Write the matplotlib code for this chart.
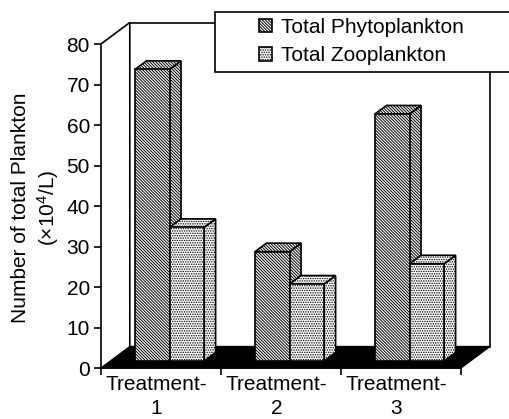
"""
Plankton counts per treatment, drawn as a pseudo 3D bar chart
"""

# Libraries
import matplotlib
matplotlib.use("Agg")
import matplotlib.pyplot as plt
from matplotlib.patches import Patch, Rectangle
from matplotlib.transforms import ScaledTranslation

# Data
treatments    = ["Treatment-\n1", "Treatment-\n2", "Treatment-\n3"]
phytoplankton = [72, 27, 61]
zooplankton   = [33, 19, 24]
y_ticks       = [0, 10, 20, 30, 40, 50, 60, 70, 80]

# Constants
WIDTH, HEIGHT = 510, 419
LINE_WIDTH = 1.2
FONT_SIZE  = 15
BAR_START  = 0.283
BAR_WIDTH  = 0.288
BAR_LIFT   = 1.73
BAR_DX     = 0.096
BAR_DY     = 2.1
WALL_DX    = 0.24
WALL_DY    = 5.3
Y_TOP      = 80

plt.rcParams["font.family"] = ["Liberation Sans", "DejaVu Sans"]
plt.rcParams["mathtext.default"] = "regular"
plt.rcParams["hatch.linewidth"] = 0.7

PHYTO_STYLE = {"facecolor": "white", "edgecolor": "black", "hatch": "\\"*11}
ZOO_STYLE   = {"facecolor": "white", "edgecolor": "black", "hatch": "."*7}

def draw_bar(ax, x, value, style):
    """
    Draws one bar with its side and top faces
    """
    top = BAR_LIFT + value
    right = x + BAR_WIDTH
    ax.fill([right, right+BAR_DX, right+BAR_DX, right],
            [BAR_LIFT, BAR_LIFT+BAR_DY, top+BAR_DY, top],
            linewidth=LINE_WIDTH, clip_on=False, zorder=3, **style)
    ax.fill([x, x+BAR_DX, right+BAR_DX, right],
            [top, top+BAR_DY, top+BAR_DY, top],
            linewidth=LINE_WIDTH, clip_on=False, zorder=3, **style)
    ax.bar(x, value, BAR_WIDTH, bottom=BAR_LIFT, align="edge",
           linewidth=LINE_WIDTH, clip_on=False, zorder=3, **style)

# Set up figure
fig = plt.figure(figsize=(WIDTH/100, HEIGHT/100), dpi=100)
ax = fig.add_axes([101/WIDTH, (HEIGHT-368)/HEIGHT, 360/WIDTH, 324/HEIGHT])
ax.set_xlim(0, len(treatments))
ax.set_ylim(0, Y_TOP)

# Floor and back walls
n = len(treatments)
ax.fill([0, n, n+WALL_DX, WALL_DX], [0, 0, WALL_DY, WALL_DY], color="black", clip_on=False, zorder=2)
ax.plot([0, WALL_DX, WALL_DX], [Y_TOP, Y_TOP+WALL_DY, WALL_DY], color="black", linewidth=LINE_WIDTH, clip_on=False, zorder=2)
ax.plot([WALL_DX, n+WALL_DX, n+WALL_DX], [Y_TOP+WALL_DY, Y_TOP+WALL_DY, WALL_DY], color="black", linewidth=LINE_WIDTH, clip_on=False, zorder=2)

# Bars, drawn left to right so the nearer faces overlap
for i in range(n):
    draw_bar(ax, i+BAR_START, phytoplankton[i], PHYTO_STYLE)
    draw_bar(ax, i+BAR_START+BAR_WIDTH, zooplankton[i], ZOO_STYLE)

# Axes
for side in ["top", "right"]:
    ax.spines[side].set_visible(False)
for side in ["left", "bottom"]:
    ax.spines[side].set_linewidth(LINE_WIDTH)
ax.set_yticks(y_ticks)
ax.set_xticks(range(n+1))
ax.set_xticklabels([])
ax.set_xticks([i+0.5 for i in range(n)], treatments, minor=True)
ax.tick_params(axis="y", length=5, width=LINE_WIDTH, labelsize=FONT_SIZE, pad=3)
ax.tick_params(axis="x", which="major", length=5, width=LINE_WIDTH)
ax.tick_params(axis="x", which="minor", length=0, labelsize=FONT_SIZE, pad=5)
shift = ScaledTranslation(-4.5/100, 0, fig.dpi_scale_trans)
for label in ax.get_xticklabels(minor=True):
    label.set_transform(label.get_transform() + shift)
    label.set_linespacing(1.32)
fig.text(36/WIDTH, (HEIGHT-208)/HEIGHT, "Number of total Plankton\n(\u00d710$^{4}$/L)",
         rotation=90, fontsize=FONT_SIZE, ha="center", va="center", multialignment="center", linespacing=1.3)

# Legend
ax.add_patch(Rectangle((215/WIDTH, (HEIGHT-72)/HEIGHT), 320/WIDTH, 60/HEIGHT, transform=fig.transFigure,
                       facecolor="white", edgecolor="black", linewidth=LINE_WIDTH, clip_on=False, zorder=5))
handles = [Patch(linewidth=LINE_WIDTH, label="Total Phytoplankton", **PHYTO_STYLE),
           Patch(linewidth=LINE_WIDTH, label="Total Zooplankton", **ZOO_STYLE)]
legend = ax.legend(handles=handles, frameon=False, fontsize=FONT_SIZE, loc="upper left",
                   bbox_to_anchor=(259/WIDTH, (HEIGHT-18)/HEIGHT), bbox_transform=fig.transFigure,
                   borderpad=0, borderaxespad=0, handlelength=0.62, handleheight=0.62,
                   handletextpad=0.45, labelspacing=0.45)
legend.set_zorder(6)

fig.savefig("out.png", dpi=100)
